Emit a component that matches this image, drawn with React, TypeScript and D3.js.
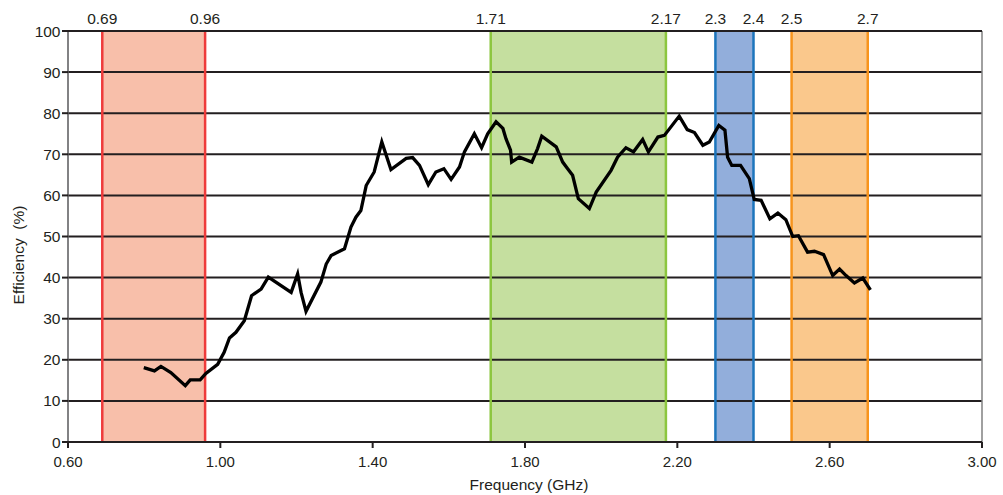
import React from "react";
import * as d3 from "d3";

const freqs = [
  0.799, 0.827, 0.844, 0.87, 0.908, 0.921, 0.947, 0.962, 0.993, 1.01, 1.024, 1.041, 1.063, 1.082, 1.107, 1.126,
  1.186, 1.203, 1.212, 1.225, 1.264, 1.278, 1.291, 1.326, 1.343, 1.356, 1.369, 1.383, 1.404, 1.424, 1.448, 1.488,
  1.505, 1.523, 1.546, 1.566, 1.587, 1.606, 1.628, 1.641, 1.667, 1.686, 1.702, 1.724, 1.742, 1.75, 1.762, 1.765,
  1.785, 1.818, 1.833, 1.844, 1.882, 1.899, 1.912, 1.925, 1.94, 1.969, 1.987, 2.026, 2.043, 2.065, 2.085, 2.109,
  2.124, 2.149, 2.166, 2.205, 2.226, 2.245, 2.267, 2.284, 2.309, 2.325, 2.332, 2.343, 2.366, 2.389, 2.402, 2.42,
  2.443, 2.464, 2.485, 2.503, 2.518, 2.542, 2.56, 2.584, 2.608, 2.626, 2.643, 2.665, 2.687, 2.707,
];
const efficiency = [
  18.1, 17.3, 18.4, 16.9, 13.7, 15.1, 15.1, 16.7, 18.9, 21.8, 25.3, 26.7, 29.5, 35.6, 37.2, 40.1,
  36.4, 40.9, 36.4, 31.8, 38.9, 43.3, 45.4, 47, 52.3, 54.7, 56.3, 62.4, 65.7, 73, 66.3, 69,
  69.2, 67.3, 62.6, 65.7, 66.5, 63.9, 66.9, 70.6, 75, 71.6, 75, 77.9, 76.3, 73.8, 71, 68.1,
  69.3, 68.1, 71.4, 74.4, 71.8, 68.1, 66.5, 64.9, 59.2, 56.8, 60.8, 66.1, 69.3, 71.6, 70.6, 73.6,
  70.6, 74.2, 74.6, 79.3, 76, 75.3, 72.2, 73, 77, 75.9, 69.3, 67.3, 67.3, 64.1, 59, 58.8,
  54.3, 55.7, 54.1, 50, 50.2, 46.2, 46.4, 45.6, 40.5, 42.1, 40.5, 38.7, 39.9, 37,
];

const bandStarts = [0.69, 1.71, 2.3, 2.5];
const bandEnds = [0.96, 2.17, 2.4, 2.7];
const bandStartLabels = ["0.69", "1.71", "2.3", "2.5"];
const bandEndLabels = ["0.96", "2.17", "2.4", "2.7"];
const bandFills = ["#F8BFAA", "#C5DF9F", "#92AEDB", "#FAC88C"];
const bandStrokes = ["#EE3B3B", "#8CC63F", "#1C75BC", "#F7941D"];

const xTicks = [0.6, 1.0, 1.4, 1.8, 2.2, 2.6, 3.0];
const yTicks = [0, 10, 20, 30, 40, 50, 60, 70, 80, 90, 100];

const W = 1003;
const H = 495;
const left = 68;
const right = 982;
const top = 31;
const bottom = 442;
const FONT = "'Liberation Sans', Arial, sans-serif";
const INK = "#231F20";

export default function App() {
  const x = d3.scaleLinear().domain([0.6, 3.0]).range([left, right]);
  const y = d3.scaleLinear().domain([0, 100]).range([bottom, top]);
  const pts = freqs.map((f, i) => [f, efficiency[i]] as [number, number]);
  const line = d3
    .line<[number, number]>()
    .x((d) => x(d[0]))
    .y((d) => y(d[1]));

  return (
    <svg
      width={W}
      height={H}
      style={{ position: "absolute", left: 0, top: 0, background: "#fff" }}
      fontFamily={FONT}
    >
      {bandStarts.map((s, i) => (
        <rect
          key={"bf" + i}
          x={x(s)}
          y={top}
          width={x(bandEnds[i]) - x(s)}
          height={bottom - top}
          fill={bandFills[i]}
        />
      ))}
      {yTicks.map((t) => (
        <line key={"g" + t} x1={left} x2={right} y1={y(t)} y2={y(t)} stroke={INK} strokeWidth={2} />
      ))}
      {bandStarts.map((s, i) => (
        <g key={"bb" + i}>
          <line x1={x(s)} x2={x(s)} y1={top} y2={bottom} stroke={bandStrokes[i]} strokeWidth={2.5} />
          <line
            x1={x(bandEnds[i])}
            x2={x(bandEnds[i])}
            y1={top}
            y2={bottom}
            stroke={bandStrokes[i]}
            strokeWidth={2.5}
          />
          <text x={x(s)} y={24} textAnchor="middle" fontSize={15.5} fill={INK}>
            {bandStartLabels[i]}
          </text>
          <text x={x(bandEnds[i])} y={24} textAnchor="middle" fontSize={15.5} fill={INK}>
            {bandEndLabels[i]}
          </text>
        </g>
      ))}
      <line x1={left} x2={left} y1={top} y2={bottom} stroke="#58595B" strokeWidth={1.5} />
      <line x1={right} x2={right} y1={top} y2={bottom} stroke="#808080" strokeWidth={1.5} />
      <line x1={left} x2={right} y1={bottom} y2={bottom} stroke={INK} strokeWidth={2} />
      <line x1={left} x2={right} y1={top} y2={top} stroke={INK} strokeWidth={2} />
      {yTicks.map((t) => (
        <g key={"yt" + t}>
          <line x1={left - 6} x2={left} y1={y(t)} y2={y(t)} stroke={INK} strokeWidth={2} />
          <text x={60.5} y={y(t) + 5.5} textAnchor="end" fontSize={15.5} fill={INK}>
            {t}
          </text>
        </g>
      ))}
      {xTicks.map((t) => (
        <g key={"xt" + t}>
          <line x1={x(t)} x2={x(t)} y1={bottom} y2={bottom + 6} stroke={INK} strokeWidth={2} />
          <text x={x(t)} y={467} textAnchor="middle" fontSize={15} fill={INK}>
            {t.toFixed(2)}
          </text>
        </g>
      ))}
      <text x={529} y={490} textAnchor="middle" fontSize={15.5} fill={INK}>
        Frequency (GHz)
      </text>
      <text
        transform={`translate(24, 255) rotate(-90)`}
        textAnchor="middle"
        fontSize={15.5}
        fill={INK}
        style={{ whiteSpace: "pre" }}
      >
        {"Efficiency  (%)"}
      </text>
      <path d={line(pts) || ""} fill="none" stroke="#000" strokeWidth={3.3} strokeLinejoin="miter" />
    </svg>
  );
}
